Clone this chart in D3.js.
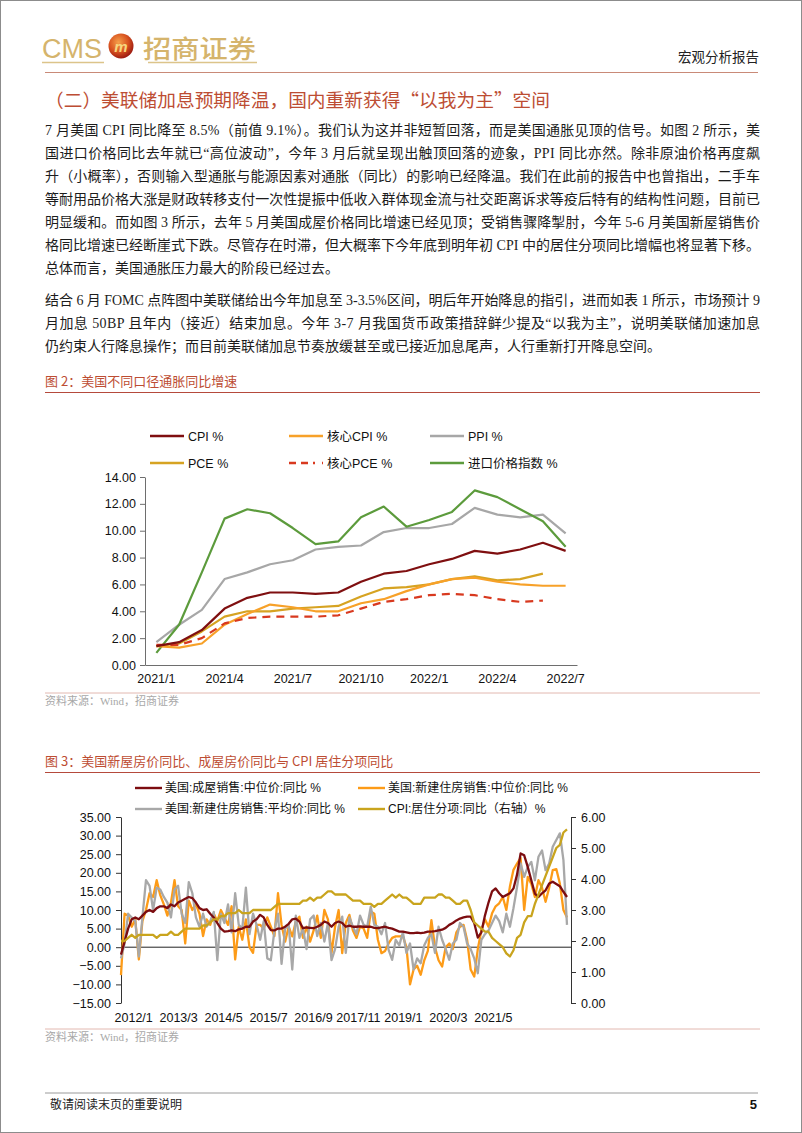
<!DOCTYPE html>
<html><head><meta charset="utf-8">
<script src="https://cdn.jsdelivr.net/npm/d3@7"></script>
<style>body{margin:0;background:#fff}svg{display:block}</style>
</head><body>
<svg id="page" width="802" height="1133"></svg>
<script>
// ---------------- DATA ----------------
const months2 = ["2021/1","2021/2","2021/3","2021/4","2021/5","2021/6","2021/7","2021/8","2021/9","2021/10","2021/11","2021/12","2022/1","2022/2","2022/3","2022/4","2022/5","2022/6","2022/7"];
const cpi     = [1.4,1.7,2.6,4.2,5.0,5.4,5.4,5.3,5.4,6.2,6.8,7.0,7.5,7.9,8.5,8.3,8.6,9.1,8.5];
const coreCpi = [1.4,1.3,1.6,3.0,3.8,4.5,4.3,4.0,4.0,4.6,4.9,5.5,6.0,6.4,6.5,6.2,6.0,5.9,5.9];
const ppi     = [1.7,3.0,4.1,6.4,6.9,7.5,7.8,8.6,8.8,8.9,9.9,10.2,10.2,10.5,11.7,11.2,11.0,11.2,9.8];
const pce     = [1.4,1.6,2.5,3.6,4.0,4.0,4.2,4.3,4.4,5.1,5.7,5.8,6.0,6.4,6.6,6.3,6.4,6.8];
const corePce = [1.5,1.5,2.0,3.1,3.5,3.6,3.6,3.6,3.7,4.2,4.7,4.9,5.2,5.3,5.2,4.9,4.7,4.8];
const importIdx = [0.9,3.0,6.9,10.9,11.6,11.3,10.2,9.0,9.2,11.0,11.8,10.3,10.8,11.4,13.0,12.5,11.6,10.7,8.8];
const ticks2 = [0,2,4,6,8,10,12,14];

// chart 3: monthly 2012/1 .. 2022/6
const existingMedian = [
 -2.0,1.5,5.0,7.5,8.0,7.5,8.5,9.5,10.0,9.5,10.5,11.0,
 11.0,10.5,11.5,11.0,12.0,12.5,13.0,13.5,13.2,12.0,10.5,10.0,
 10.2,9.0,8.0,6.5,5.0,4.2,4.3,4.5,4.3,4.8,5.0,5.5,
 5.5,6.9,7.5,8.7,8.0,6.0,4.6,4.5,5.0,5.0,5.5,6.3,
 7.5,7.7,6.9,5.1,5.3,5.2,5.1,5.5,6.0,6.9,6.5,5.5,
 6.5,6.9,6.5,5.5,5.8,5.5,5.5,5.6,5.5,5.5,5.5,5.2,
 5.1,5.3,5.5,5.2,5.0,4.6,4.2,4.2,4.0,3.8,3.8,3.9,
 3.8,3.9,4.2,4.2,4.3,4.5,4.7,5.2,6.0,6.5,7.2,7.7,
 8.0,8.2,8.2,6.5,2.6,4.0,8.5,12.0,15.0,15.8,14.5,13.5,
 14.0,14.5,15.8,19.5,25.2,24.7,21.6,18.0,14.4,13.5,14.5,15.3,
 17.1,17.6,17.0,16.4,14.9,13.5];
const newMedian = [
 -7.5,9.0,8.5,5.5,7.5,-3.3,7.0,10.0,14.5,13.5,18.0,14.0,
 11.5,8.5,12.0,18.0,11.0,10.0,1.0,12.5,10.0,11.5,9.0,3.0,
 7.5,6.0,9.0,7.0,10.0,8.0,6.0,11.0,-3.3,5.5,2.0,7.5,
 0.0,-1.5,6.0,6.0,5.0,8.0,5.5,3.0,14.5,6.0,1.5,5.5,
 2.9,7.0,8.2,2.5,5.5,1.5,4.5,8.5,2.5,10.0,7.5,-1.6,
 5.5,10.0,-1.6,6.5,8.7,4.5,2.5,5.5,5.0,2.5,9.6,9.0,
 2.0,-1.6,-1.0,1.0,2.5,2.9,2.9,3.0,0.0,-10.0,-6.0,-5.0,
 -7.4,-3.5,-1.0,7.3,0.0,-3.5,-5.2,0.0,1.0,-0.5,4.0,5.5,
 6.0,2.0,-6.0,-7.9,-0.5,4.5,7.5,5.5,9.1,11.0,11.8,13.5,
 10.0,16.3,20.8,22.5,24.0,10.0,18.9,17.0,13.5,18.0,16.0,12.2,
 16.0,20.7,21.0,17.1,10.0,8.0];
const newAverage = [
 -3.0,1.0,9.0,8.0,7.0,-2.5,8.0,18.0,16.5,10.0,16.0,15.5,
 13.5,12.0,8.0,15.5,16.5,9.0,6.5,17.5,14.5,8.0,5.5,9.0,
 5.5,7.0,9.5,-3.5,9.0,6.5,11.5,4.0,14.5,6.0,5.0,16.0,
 3.5,9.0,6.0,2.0,7.0,-3.0,-3.5,4.5,9.0,-4.5,5.0,6.0,
 -6.0,8.5,2.5,5.0,-0.5,7.5,8.5,3.0,6.5,1.5,6.5,-3.5,
 -0.5,5.5,8.2,-1.5,8.0,5.5,3.5,8.5,6.0,5.5,10.9,6.0,
 5.5,3.5,6.5,-0.7,-3.4,2.0,0.5,4.0,-1.5,1.0,-6.0,-3.0,
 -4.3,0.5,2.5,3.5,-1.5,5.5,2.0,-0.5,-3.4,1.0,2.0,6.5,
 5.5,1.0,-0.5,-3.0,-7.0,2.0,3.5,4.5,6.5,8.5,7.0,4.0,
 9.0,5.5,10.5,16.2,22.5,18.9,21.6,22.9,18.0,24.3,26.0,20.7,
 22.5,27.0,28.8,30.6,23.4,6.0];
const shelterCpi = [
 2.0,2.0,2.1,2.2,2.1,2.2,2.2,2.2,2.2,2.2,2.1,2.2,
 2.2,2.2,2.3,2.2,2.2,2.3,2.4,2.4,2.4,2.4,2.4,2.5,
 2.5,2.6,2.7,2.7,2.8,2.8,2.9,2.9,2.9,3.0,2.9,2.9,
 2.9,3.0,3.0,3.0,3.0,3.0,3.0,3.1,3.2,3.2,3.2,3.2,
 3.2,3.2,3.2,3.3,3.3,3.4,3.3,3.4,3.4,3.5,3.6,3.6,
 3.5,3.5,3.5,3.5,3.4,3.3,3.3,3.3,3.2,3.2,3.2,3.1,
 3.2,3.2,3.3,3.4,3.5,3.4,3.5,3.4,3.4,3.3,3.2,3.2,
 3.2,3.4,3.4,3.4,3.4,3.5,3.5,3.4,3.4,3.3,3.2,3.2,
 3.3,3.3,3.0,2.6,2.5,2.4,2.3,2.3,2.1,2.0,1.9,1.8,
 1.6,1.5,1.7,2.1,2.2,2.6,2.8,2.8,3.2,3.5,3.8,4.1,
 4.4,4.7,5.0,5.1,5.5,5.6];
const ticks3Left  = [-15,-10,-5,0,5,10,15,20,25,30,35];
const ticks3Right = [0,1,2,3,4,5,6];
const labels3 = ["2012/1","2013/3","2014/5","2015/7","2016/9","2017/11","2019/1","2020/3","2021/5"];

const para1 = [
 "7 月美国 CPI 同比降至 8.5%（前值 9.1%）。我们认为这并非短暂回落，而是美国通胀见顶的信号。如图 2 所示，美",
 "国进口价格同比去年就已“高位波动”，今年 3 月后就呈现出触顶回落的迹象，PPI 同比亦然。除非原油价格再度飙",
 "升（小概率），否则输入型通胀与能源因素对通胀（同比）的影响已经降温。我们在此前的报告中也曾指出，二手车",
 "等耐用品价格大涨是财政转移支付一次性提振中低收入群体现金流与社交距离诉求等疫后特有的结构性问题，目前已",
 "明显缓和。而如图 3 所示，去年 5 月美国成屋价格同比增速已经见顶；受销售骤降掣肘，今年 5-6 月美国新屋销售价",
 "格同比增速已经断崖式下跌。尽管存在时滞，但大概率下今年底到明年初 CPI 中的居住分项同比增幅也将显著下移。",
 "总体而言，美国通胀压力最大的阶段已经过去。"];
const para2 = [
 "结合 6 月 FOMC 点阵图中美联储给出今年加息至 3-3.5%区间，明后年开始降息的指引，进而如表 1 所示，市场预计 9",
 "月加息 50BP 且年内（接近）结束加息。今年 3-7 月我国货币政策措辞鲜少提及“以我为主”，说明美联储加速加息",
 "仍约束人行降息操作；而目前美联储加息节奏放缓甚至或已接近加息尾声，人行重新打开降息空间。"];

// ---------------- STYLE ----------------
const SANS = "'Liberation Sans', Arial, 'Noto Sans CJK SC', sans-serif";
const SERIF = "'Liberation Serif', 'Times New Roman', 'Noto Sans CJK SC', serif";
const CJK = "'Noto Sans CJK SC', sans-serif";
const RED_T = "#bd4d33";
const GOLD_LOGO = "#d5b46c";

const svg = d3.select("#page");
svg.append("rect").attr("x",0.5).attr("y",0.5).attr("width",801).attr("height",1132)
  .attr("fill","#fff").attr("stroke","#8c8c8c");

// ---------------- HEADER ----------------
const defs = svg.append("defs");
const rg = defs.append("radialGradient").attr("id","logoG").attr("cx","40%").attr("cy","35%").attr("r","65%");
rg.append("stop").attr("offset","0%").attr("stop-color","#f6a04a");
rg.append("stop").attr("offset","60%").attr("stop-color","#d8521f");
rg.append("stop").attr("offset","100%").attr("stop-color","#9e1d12");

svg.append("text").attr("x",42).attr("y",58).attr("textLength",60).attr("lengthAdjust","spacingAndGlyphs")
  .attr("font-family",SANS).attr("font-size",27).attr("fill",GOLD_LOGO).text("CMS");
svg.append("circle").attr("cx",121).attr("cy",46).attr("r",12.5).attr("fill","url(#logoG)");
svg.append("text").attr("x",121).attr("y",51.5).attr("text-anchor","middle").attr("font-family",SANS)
  .attr("font-style","italic").attr("font-weight","bold").attr("font-size",15).attr("fill","#f7d67e").text("m");
svg.append("text").attr("x",143).attr("y",58).attr("textLength",113).attr("lengthAdjust","spacingAndGlyphs")
  .attr("font-family",CJK).attr("font-weight",500).attr("font-size",25).attr("fill",GOLD_LOGO).text("招商证券");
[[42,104],[148,257]].forEach(([a,b])=>svg.append("line").attr("x1",a).attr("x2",b).attr("y1",62.5).attr("y2",62.5)
  .attr("stroke","#dcc48a").attr("stroke-width",1.5));
svg.append("text").attr("x",759).attr("y",62).attr("text-anchor","end").attr("font-family",CJK)
  .attr("font-size",13.5).attr("fill","#222").text("宏观分析报告");
svg.append("line").attr("x1",45).attr("x2",758).attr("y1",72.5).attr("y2",72.5).attr("stroke","#c98a78").attr("stroke-width",1);

svg.append("text").attr("x",45).attr("y",107).attr("textLength",505).attr("lengthAdjust","spacingAndGlyphs")
  .attr("font-family",CJK).attr("font-size",18.5).attr("fill",RED_T).text("（二）美联储加息预期降温，国内重新获得“以我为主”空间");

// ---------------- PARAGRAPHS ----------------
function para(lines, y0, lh){
  lines.forEach((t,i)=>{
    const el = svg.append("text").attr("x",45).attr("y",y0+i*lh).attr("font-family",SERIF)
      .attr("font-size",14).attr("fill","#1c1c1c").text(t);
    if(i<lines.length-1) el.attr("textLength",715).attr("lengthAdjust","spacing");
  });
}
para(para1,135,23);
para(para2,305,23);

// ---------------- FIGURE 2 ----------------
function figTitle(t,y){
  svg.append("text").attr("x",45).attr("y",y).attr("font-family",CJK).attr("font-size",13)
    .attr("fill",RED_T).text(t);
  svg.append("line").attr("x1",45).attr("x2",760).attr("y1",y+6.5).attr("y2",y+6.5).attr("stroke","#b54a3c").attr("stroke-width",1.2);
}
function source(y){
  svg.append("line").attr("x1",45).attr("x2",760).attr("y1",y).attr("y2",y).attr("stroke","#e2b8b0").attr("stroke-width",1);
  svg.append("text").attr("x",45).attr("y",y+12).attr("font-family",SERIF).attr("font-size",11)
    .attr("fill","#a8a8a8").text("资料来源：Wind，招商证券");
}
figTitle("图 2：美国不同口径通胀同比增速",386);

const x2 = d3.scaleBand().domain(months2).range([145,577]);
const xc2 = m => x2(m)+x2.bandwidth()/2;
const y2 = d3.scaleLinear().domain([0,14]).range([665,477]);
const g2 = svg.append("g");

const ax2 = g2.append("g").attr("transform","translate(145,0)")
  .call(d3.axisLeft(y2).tickValues(ticks2).tickFormat(d3.format(".2f")).tickSizeInner(5).tickSizeOuter(0).tickPadding(4));
ax2.selectAll("path,line").attr("stroke","#6e6e6e");
ax2.selectAll("text").attr("font-family",SANS).attr("font-size",12.5).attr("fill","#111");
const bx2 = g2.append("g").attr("transform","translate(0,665)")
  .call(d3.axisBottom(x2).tickValues(months2.filter((d,i)=>i%3===0)).tickSizeInner(0).tickSizeOuter(0).tickPadding(9));
bx2.select("path").attr("stroke","#6e6e6e");
bx2.selectAll("text").attr("font-family",SANS).attr("font-size",12.5).attr("fill","#111");

const series2 = [
 {name:"CPI %", v:cpi, c:"#7f0f10", dash:null},
 {name:"核心CPI %", v:coreCpi, c:"#f7a129", dash:null},
 {name:"PPI %", v:ppi, c:"#a7a7a7", dash:null},
 {name:"PCE %", v:pce, c:"#d6a322", dash:null},
 {name:"核心PCE %", v:corePce, c:"#d8391f", dash:"8,6"},
 {name:"进口价格指数 %", v:importIdx, c:"#5c9b3c", dash:null}];
const line2 = d3.line().x((d,i)=>xc2(months2[i])).y(d=>y2(d));
const order2 = [2,5,3,1,4,0];
order2.forEach(k=>{
  const s = series2[k];
  g2.append("path").datum(s.v).attr("d",line2).attr("fill","none").attr("stroke",s.c)
    .attr("stroke-width",2.2).attr("stroke-dasharray",s.dash).attr("stroke-linejoin","round");
});
// legend
const legX = [150,289,430], legY=[436,463];
series2.forEach((s,k)=>{
  const lx = legX[k%3], ly = legY[Math.floor(k/3)];
  g2.append("line").attr("x1",lx).attr("x2",lx+34).attr("y1",ly).attr("y2",ly).attr("stroke",s.c)
    .attr("stroke-width",2.4).attr("stroke-dasharray",s.dash?"7,5,7,5,2":null);
  g2.append("text").attr("x",lx+38).attr("y",ly+4.5).attr("font-family",SANS).attr("font-size",12.5)
    .attr("fill","#111").text(s.name);
});
source(693);

// ---------------- FIGURE 3 ----------------
figTitle("图 3：美国新屋房价同比、成屋房价同比与 CPI 居住分项同比",766);
const x3 = d3.scaleLinear().domain([0,existingMedian.length-1]).range([121,567]);
const y3 = d3.scaleLinear().domain([-15,35]).range([1003,817]);
const y3r = d3.scaleLinear().domain([0,6]).range([1003,817]);
// category-axis label slots as drawn in the source chart (in month-index units)
const labelStart = 3.4, labelStep = 12.6;
const g3 = svg.append("g");
const al3 = g3.append("g").attr("transform","translate(121,0)")
  .call(d3.axisLeft(y3).tickValues(ticks3Left).tickFormat(d3.format(".2f")).tickSizeInner(5).tickSizeOuter(0).tickPadding(5));
al3.selectAll("path,line").attr("stroke","#333");
al3.selectAll("text").attr("font-family",SANS).attr("font-size",12.5).attr("fill","#111");
const ar3 = g3.append("g").attr("transform","translate(571,0)")
  .call(d3.axisRight(y3r).tickValues(ticks3Right).tickFormat(d3.format(".2f")).tickSizeInner(5).tickSizeOuter(0).tickPadding(5));
ar3.selectAll("path,line").attr("stroke","#333");
ar3.selectAll("text").attr("font-family",SANS).attr("font-size",12.5).attr("fill","#111");
const bx3 = g3.append("g").attr("transform","translate(0,1003)")
  .call(d3.axisBottom(x3).tickValues(labels3.map((d,i)=>labelStart+i*labelStep)).tickFormat((d,i)=>labels3[i]).tickSizeInner(0).tickSizeOuter(0).tickPadding(10));
bx3.select("path").remove();
bx3.selectAll("text").attr("font-family",SANS).attr("font-size",12.5).attr("fill","#111");
g3.append("line").attr("x1",121).attr("x2",571).attr("y1",y3(0)).attr("y2",y3(0)).attr("stroke","#222").attr("stroke-width",1);

const series3 = [
 {name:"美国:成屋销售:中位价:同比 %", v:existingMedian, c:"#7c0d10", axis:y3},
 {name:"美国:新建住房销售:中位价:同比 %", v:newMedian, c:"#fd9b17", axis:y3},
 {name:"美国:新建住房销售:平均价:同比 %", v:newAverage, c:"#a8a8a8", axis:y3},
 {name:"CPI:居住分项:同比（右轴）%", v:shelterCpi, c:"#c9a41d", axis:y3r}];
[1,2,0,3].forEach(k=>{
  const s = series3[k];
  const ln = d3.line().x((d,i)=>x3(i)).y(d=>s.axis(d));
  g3.append("path").datum(s.v).attr("d",ln).attr("fill","none").attr("stroke",s.c)
    .attr("stroke-width",2.3).attr("stroke-linejoin","round");
});
const leg3X=[135,358], leg3Y=[788,809];
series3.forEach((s,k)=>{
  const lx=leg3X[k%2], ly=leg3Y[Math.floor(k/2)];
  g3.append("line").attr("x1",lx).attr("x2",lx+27).attr("y1",ly).attr("y2",ly).attr("stroke",s.c).attr("stroke-width",2.4);
  g3.append("text").attr("x",lx+30).attr("y",ly+4.3).attr("font-family",SANS).attr("font-size",12)
    .attr("fill","#111").text(s.name);
});
source(1029);

// ---------------- FOOTER ----------------
svg.append("line").attr("x1",45).attr("x2",758).attr("y1",1093).attr("y2",1093).attr("stroke","#9a9a9a").attr("stroke-width",1);
svg.append("text").attr("x",50).attr("y",1109).attr("font-family",CJK).attr("font-size",12).attr("fill","#222").text("敬请阅读末页的重要说明");
svg.append("text").attr("x",757).attr("y",1109).attr("text-anchor","end").attr("font-family",SANS).attr("font-weight","bold")
  .attr("font-size",13).attr("fill","#111").text("5");
</script>
</body></html>
